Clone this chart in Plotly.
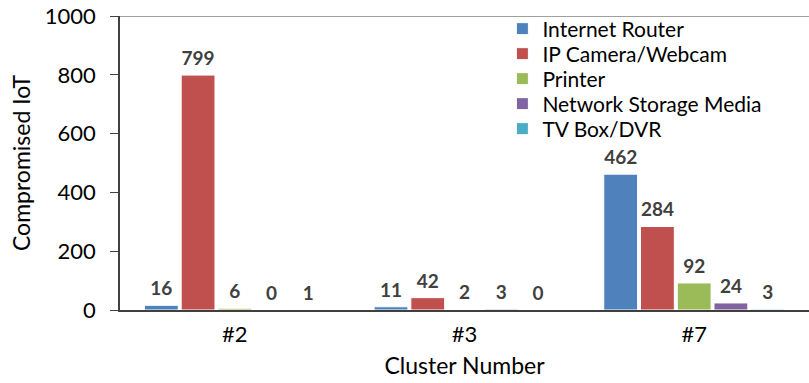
import plotly.graph_objects as go

clusters = ["#2", "#3", "#7"]
series_names = ["Internet Router", "IP Camera/Webcam", "Printer", "Network Storage Media", "TV Box/DVR"]
internet_router = [16, 11, 462]
ip_camera = [799, 42, 284]
printer = [6, 2, 92]
storage = [0, 3, 24]
tv_box = [1, 0, 3]
colors = ["#4F81BD", "#C0504D", "#9BBB59", "#8064A2", "#4BACC6"]
y_ticks = [0, 200, 400, 600, 800, 1000]

FONT = "Lato"
series = [internet_router, ip_camera, printer, storage, tv_box]
legend_ids = ["legend", "legend2", "legend3", "legend4", "legend5"]
legend_rows_px = [29, 54, 79, 104, 129]  # row centres (px from top)

fig = go.Figure()
for name, vals, col, lid in zip(series_names, series, colors, legend_ids):
    fig.add_trace(go.Bar(
        x=clusters, y=vals, name=name, legend=lid,
        marker=dict(color=col, line=dict(color="white", width=1)),
    ))
# value labels, grouped like the bars
for name, vals in zip(series_names, series):
    fig.add_trace(go.Scatter(
        x=clusters, y=vals, mode="markers+text", showlegend=False, hoverinfo="skip",
        marker=dict(size=7, opacity=0),
        text=[str(v) for v in vals], textposition="top center",
        textfont=dict(family=FONT, size=19, color="#404040", weight="bold"),
        cliponaxis=False,
    ))

plot_top, plot_bottom = 16, 310
legends = {}
for lid, py in zip(legend_ids, legend_rows_px):
    legends[lid] = dict(
        x=0.555, y=(plot_bottom - py) / (plot_bottom - plot_top), xanchor="left", yanchor="middle",
        font=dict(family=FONT, size=21, color="black"), bgcolor="rgba(0,0,0,0)",
    )

fig.update_layout(
    width=809, height=383,
    margin=dict(l=120, r=0, t=16, b=73),
    paper_bgcolor="white", plot_bgcolor="white",
    barmode="group", bargap=0.2, bargroupgap=0.08,
    scattermode="group", scattergap=0.2,
    font=dict(family=FONT, size=20, color="black"),
    showlegend=True,
    xaxis=dict(
        type="category",
        showline=True, linecolor="#404040", linewidth=1.5,
        ticks="", ticklabelstandoff=4, tickfont=dict(family=FONT, size=22, color="black"),
        title=dict(text="Cluster Number", font=dict(family=FONT, size=23, color="black"), standoff=12),
    ),
    yaxis=dict(
        range=[0, 1000], tickvals=y_ticks,
        showline=True, linecolor="#404040", linewidth=1.5,
        ticks="outside", ticklen=8, tickcolor="#404040", ticklabelstandoff=10,
        showgrid=False, zeroline=False,
        tickfont=dict(family=FONT, size=22, color="black"),
        title=dict(text="Compromised IoT", font=dict(family=FONT, size=23, color="black"), standoff=8),
    ),
    shapes=[dict(type="line", xref="paper", yref="y", x0=0, x1=1, y0=1000, y1=1000,
                 line=dict(color="#808080", width=1.5))],
    **legends,
)

fig.write_html("out.html")
